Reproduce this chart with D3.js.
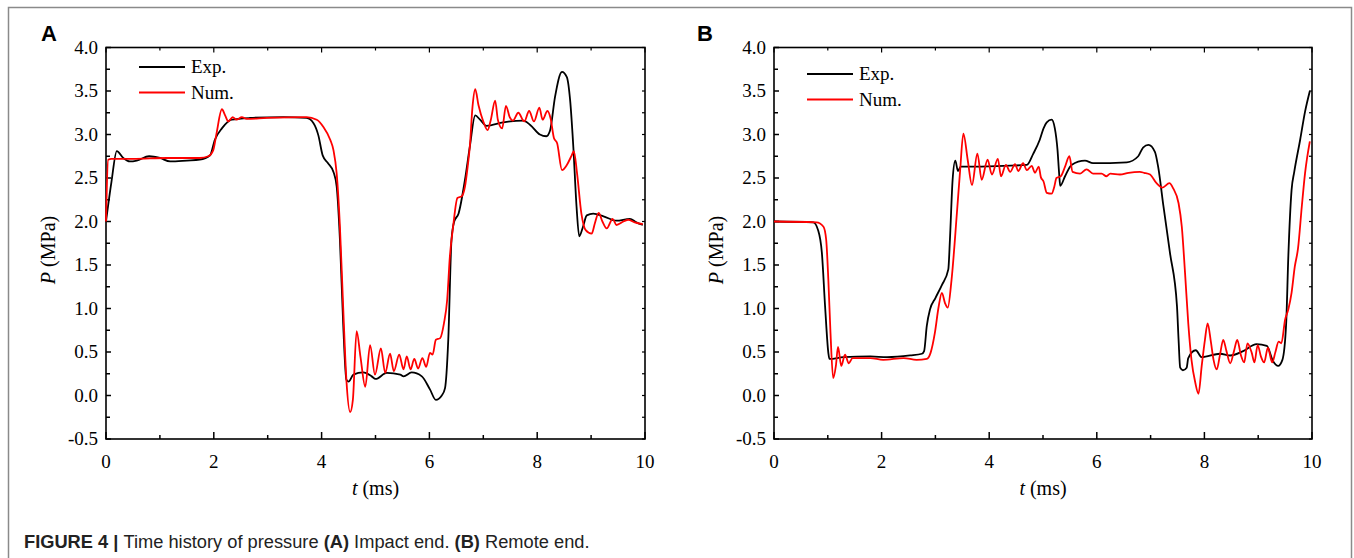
<!DOCTYPE html>
<html lang="en">
<head>
<meta charset="UTF-8">
<title>Time history of pressure</title>
<script src="https://d3js.org/d3.v7.min.js"></script>
<style>
    html, body { margin: 0; padding: 0; background: #fff; }
    svg { display: block; }
    .tick-label { font-family: 'Liberation Serif', 'Times New Roman', serif; font-size: 19px; fill: #000; }
    .ax-title { font-family: 'Liberation Serif', 'Times New Roman', serif; font-size: 20px; fill: #000; }
    .legend { font-family: 'Liberation Serif', 'Times New Roman', serif; font-size: 19px; fill: #000; }
    .panel-letter { font-family: 'Liberation Sans', Arial, sans-serif; font-size: 22px; font-weight: bold; }
    .caption { font-family: 'Liberation Sans', Arial, sans-serif; font-size: 19px; fill: #222; }
</style>
</head>
<body>
<svg id="fig" width="1354" height="558"></svg>
<script>
    // series: [t (ms), P (MPa)]
    var expA = [[0,2.0],[0.1,2.45],[0.2,2.81],[0.32,2.73],[0.445,2.69],[0.57,2.70],[0.8,2.75],[1.0,2.73],[1.19,2.69],[1.5,2.70],[1.74,2.71],[1.93,2.76],[2.02,2.94],[2.15,3.07],[2.33,3.17],[2.67,3.19],[3.29,3.20],[3.72,3.19],[3.85,3.13],[3.94,2.99],[4.02,2.76],[4.12,2.67],[4.22,2.57],[4.28,2.40],[4.34,1.79],[4.40,0.83],[4.46,0.18],[4.5,0.16],[4.59,0.24],[4.77,0.265],[4.93,0.22],[5.0,0.19],[5.21,0.26],[5.46,0.24],[5.52,0.22],[5.67,0.265],[5.86,0.22],[6.01,0.07],[6.12,-0.05],[6.23,0.0],[6.29,0.085],[6.35,0.64],[6.41,1.79],[6.46,2.0],[6.54,2.09],[6.66,2.48],[6.75,2.86],[6.85,3.22],[6.94,3.17],[7.06,3.10],[7.37,3.14],[7.74,3.16],[7.87,3.11],[8.05,3.0],[8.17,2.98],[8.24,3.05],[8.33,3.43],[8.46,3.72],[8.55,3.66],[8.61,3.40],[8.67,2.86],[8.73,2.17],[8.78,1.83],[8.85,1.94],[8.92,2.07],[9.04,2.09],[9.23,2.06],[9.47,2.01],[9.72,2.03],[9.84,1.99],[9.96,1.96]];
    var numA = [[0,2.0],[0.04,2.71],[0.1,2.72],[0.5,2.72],[1.13,2.73],[1.74,2.73],[1.90,2.75],[1.99,2.82],[2.05,3.01],[2.15,3.29],[2.21,3.22],[2.27,3.15],[2.35,3.20],[2.42,3.17],[2.52,3.20],[2.61,3.18],[2.98,3.19],[3.72,3.20],[3.91,3.17],[4.03,3.09],[4.16,2.94],[4.22,2.82],[4.28,2.55],[4.34,1.94],[4.40,1.02],[4.46,0.18],[4.53,-0.19],[4.58,-0.05],[4.65,0.74],[4.72,0.45],[4.81,0.10],[4.90,0.58],[4.99,0.24],[5.10,0.54],[5.18,0.26],[5.27,0.48],[5.34,0.28],[5.44,0.47],[5.52,0.30],[5.58,0.45],[5.65,0.30],[5.72,0.42],[5.79,0.31],[5.87,0.43],[5.94,0.33],[6.01,0.49],[6.06,0.47],[6.12,0.64],[6.20,0.66],[6.27,0.83],[6.33,1.10],[6.38,1.60],[6.44,1.94],[6.52,2.27],[6.60,2.29],[6.66,2.40],[6.71,2.63],[6.75,2.86],[6.80,3.32],[6.85,3.52],[6.91,3.34],[7.00,3.15],[7.08,3.05],[7.14,3.17],[7.22,3.39],[7.27,3.17],[7.35,3.07],[7.42,3.33],[7.49,3.20],[7.55,3.16],[7.65,3.25],[7.76,3.15],[7.85,3.27],[7.94,3.15],[8.04,3.31],[8.10,3.17],[8.19,3.27],[8.25,3.18],[8.31,2.96],[8.37,2.90],[8.46,2.59],[8.55,2.65],[8.64,2.76],[8.68,2.81],[8.74,2.55],[8.82,2.09],[8.90,1.90],[9.01,1.86],[9.07,1.98],[9.14,2.10],[9.21,2.00],[9.29,1.92],[9.40,2.03],[9.47,1.96],[9.60,2.0],[9.69,2.02],[9.81,1.99],[9.96,1.97]];
    var expB = [[0,2.0],[0.73,1.99],[0.82,1.90],[0.89,1.64],[0.95,1.02],[1.01,0.49],[1.03,0.42],[1.29,0.44],[1.79,0.45],[2.10,0.44],[2.53,0.46],[2.75,0.48],[2.79,0.51],[2.84,0.80],[2.90,0.99],[3.0,1.12],[3.12,1.27],[3.24,1.45],[3.27,1.79],[3.32,2.48],[3.37,2.70],[3.42,2.58],[3.47,2.63],[3.65,2.63],[4.27,2.64],[4.70,2.65],[4.82,2.78],[4.94,2.94],[5.01,3.07],[5.07,3.14],[5.16,3.17],[5.22,3.07],[5.27,2.82],[5.30,2.55],[5.32,2.41],[5.41,2.52],[5.53,2.65],[5.78,2.70],[5.93,2.67],[6.56,2.68],[6.77,2.75],[6.86,2.85],[6.96,2.88],[7.08,2.80],[7.14,2.63],[7.24,2.17],[7.36,1.64],[7.49,1.03],[7.52,0.64],[7.55,0.32],[7.60,0.29],[7.67,0.32],[7.70,0.43],[7.84,0.52],[7.95,0.44],[8.29,0.48],[8.48,0.46],[8.72,0.51],[8.97,0.59],[9.16,0.57],[9.28,0.39],[9.37,0.34],[9.45,0.41],[9.52,0.83],[9.56,1.60],[9.62,2.36],[9.67,2.57],[9.78,2.94],[9.87,3.26],[9.96,3.50]];
    var numB = [[0,2.0],[0.79,1.99],[0.92,1.94],[0.97,1.79],[1.01,1.33],[1.05,0.72],[1.10,0.20],[1.15,0.34],[1.19,0.56],[1.25,0.34],[1.32,0.47],[1.39,0.37],[1.46,0.43],[1.79,0.43],[2.03,0.41],[2.41,0.43],[2.65,0.41],[2.84,0.42],[2.91,0.49],[2.99,0.72],[3.06,1.02],[3.12,1.18],[3.18,1.06],[3.23,1.01],[3.30,1.33],[3.40,2.10],[3.46,2.59],[3.52,3.01],[3.60,2.71],[3.68,2.42],[3.78,2.78],[3.86,2.48],[3.97,2.71],[4.05,2.54],[4.16,2.72],[4.22,2.52],[4.31,2.65],[4.39,2.57],[4.48,2.66],[4.54,2.58],[4.63,2.67],[4.70,2.59],[4.79,2.64],[4.85,2.56],[4.92,2.63],[4.96,2.51],[5.01,2.46],[5.07,2.33],[5.16,2.32],[5.21,2.40],[5.25,2.50],[5.33,2.52],[5.41,2.63],[5.49,2.75],[5.55,2.57],[5.69,2.55],[5.81,2.60],[5.93,2.55],[6.09,2.55],[6.18,2.52],[6.25,2.55],[6.43,2.54],[6.59,2.56],[6.80,2.57],[6.88,2.56],[6.99,2.54],[7.11,2.44],[7.22,2.39],[7.35,2.44],[7.42,2.38],[7.52,2.21],[7.58,1.94],[7.64,1.41],[7.70,0.83],[7.76,0.41],[7.83,0.15],[7.89,0.02],[7.95,0.34],[8.01,0.64],[8.06,0.83],[8.12,0.62],[8.17,0.41],[8.23,0.30],[8.29,0.47],[8.35,0.64],[8.41,0.51],[8.48,0.37],[8.55,0.51],[8.61,0.64],[8.68,0.46],[8.74,0.38],[8.80,0.60],[8.88,0.49],[8.93,0.38],[8.99,0.58],[9.05,0.45],[9.11,0.38],[9.18,0.55],[9.26,0.38],[9.32,0.50],[9.38,0.62],[9.43,0.60],[9.50,0.87],[9.56,0.99],[9.62,1.18],[9.68,1.48],[9.74,1.69],[9.81,2.17],[9.87,2.55],[9.96,2.92]];

    var xTicks = [0, 2, 4, 6, 8, 10];
    var yTicks = [-0.5, 0, 0.5, 1.0, 1.5, 2.0, 2.5, 3.0, 3.5, 4.0];
    var seriesNames = ["Exp.", "Num."];
    var seriesColors = ["#000000", "#ff0000"];

    var svg = d3.select("#fig");

    // outer figure frame
    svg.append("path")
        .attr("d", "M8.5,570 L8.5,7.5 L1351.5,7.5 L1351.5,570")
        .attr("fill", "none")
        .attr("stroke", "#8a8a8a")
        .attr("stroke-width", 1.5);

    function drawPanel(opt) {
        var x = d3.scaleLinear().domain([0, 10]).range([opt.left, opt.right]);
        var y = d3.scaleLinear().domain([-0.5, 4.0]).range([439, 47.5]);
        var g = svg.append("g");

        // ticks inward on all four sides
        var xt = d3.range(0, 10.1, 1);
        var yt = d3.range(-0.5, 4.01, 0.25);
        g.selectAll(".xb").data(xt).enter().append("line")
            .attr("x1", d => x(d)).attr("x2", d => x(d))
            .attr("y1", 439).attr("y2", d => 439 - (d % 2 === 0 ? 7 : 4))
            .attr("stroke", "#000").attr("stroke-width", 1.5);
        g.selectAll(".xt").data(xt).enter().append("line")
            .attr("x1", d => x(d)).attr("x2", d => x(d))
            .attr("y1", 47.5).attr("y2", d => 47.5 + (d % 2 === 0 ? 5 : 3))
            .attr("stroke", "#000").attr("stroke-width", 1.2);
        g.selectAll(".yl").data(yt).enter().append("line")
            .attr("x1", opt.left).attr("x2", d => opt.left + (Math.abs(d * 2 - Math.round(d * 2)) < 1e-6 ? 5 : 4))
            .attr("y1", d => y(d)).attr("y2", d => y(d))
            .attr("stroke", "#000").attr("stroke-width", 1.5);
        g.selectAll(".yr").data(yt).enter().append("line")
            .attr("x1", opt.right).attr("x2", d => opt.right - 3)
            .attr("y1", d => y(d)).attr("y2", d => y(d))
            .attr("stroke", "#000").attr("stroke-width", 1.2);

        g.append("rect")
            .attr("x", opt.left).attr("y", 47.5)
            .attr("width", opt.right - opt.left).attr("height", 439 - 47.5)
            .attr("fill", "none").attr("stroke", "#000").attr("stroke-width", 1.6);

        g.selectAll(".xlab").data(xTicks).enter().append("text")
            .attr("class", "tick-label")
            .attr("x", d => x(d)).attr("y", 468)
            .attr("text-anchor", "middle")
            .text(d => d);
        g.selectAll(".ylab").data(yTicks).enter().append("text")
            .attr("class", "tick-label")
            .attr("x", opt.left - 8).attr("y", d => y(d) + 6)
            .attr("text-anchor", "end")
            .text(d => d3.format(".1f")(d).replace("\u2212", "-"));

        // axis titles
        var xt2 = g.append("text").attr("class", "ax-title")
            .attr("x", (opt.left + opt.right) / 2).attr("y", 495).attr("text-anchor", "middle");
        xt2.append("tspan").attr("font-style", "italic").text("t");
        xt2.append("tspan").text(" (ms)");
        var yt2 = g.append("text").attr("class", "ax-title")
            .attr("transform", "translate(" + (opt.left - 51) + "," + 250 + ") rotate(-90)")
            .attr("text-anchor", "middle");
        yt2.append("tspan").attr("font-style", "italic").text("P");
        yt2.append("tspan").text(" (MPa)");

        // data
        var line = d3.line().x(d => x(d[0])).y(d => y(d[1])).curve(d3.curveMonotoneX);
        [opt.exp, opt.num].forEach(function (s, i) {
            g.append("path").datum(s)
                .attr("d", line)
                .attr("fill", "none")
                .attr("stroke", seriesColors[i])
                .attr("stroke-width", 1.8)
                .attr("stroke-linejoin", "round");
        });

        // legend
        seriesNames.forEach(function (name, i) {
            var ly = opt.legendY + i * 25.5;
            g.append("line")
                .attr("x1", opt.left + 33).attr("x2", opt.left + 79)
                .attr("y1", ly).attr("y2", ly)
                .attr("stroke", seriesColors[i]).attr("stroke-width", 1.8);
            g.append("text").attr("class", "legend")
                .attr("x", opt.left + 85).attr("y", ly + 6)
                .text(name);
        });

        svg.append("text").attr("class", "panel-letter")
            .attr("x", opt.letterX).attr("y", 40.5)
            .text(opt.letter);
    }

    drawPanel({ left: 106, right: 645, exp: expA, num: numA, legendY: 67, letter: "A", letterX: 41 });
    drawPanel({ left: 774, right: 1312, exp: expB, num: numB, legendY: 74, letter: "B", letterX: 697 });

    // caption: one text run, squeezed horizontally to the width of the original
    var capG = svg.append("g");
    var cap = capG.append("text").attr("class", "caption").attr("x", 0).attr("y", 0);
    cap.append("tspan").attr("font-weight", "bold").text("FIGURE 4 | ");
    cap.append("tspan").text("Time history of pressure ");
    cap.append("tspan").attr("font-weight", "bold").text("(A)");
    cap.append("tspan").text(" Impact end. ");
    cap.append("tspan").attr("font-weight", "bold").text("(B)");
    cap.append("tspan").text(" Remote end.");
    var capW = cap.node().getComputedTextLength();
    capG.attr("transform", "translate(24,548) scale(" + (566 / capW) + ",1)");
</script>
</body>
</html>
